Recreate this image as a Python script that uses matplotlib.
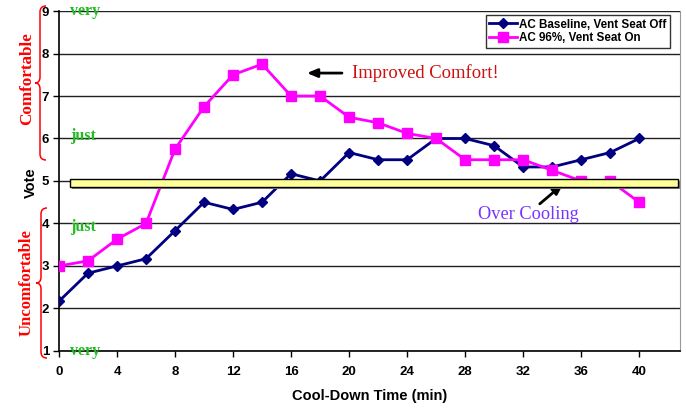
import numpy as np
import matplotlib.pyplot as plt
from matplotlib.path import Path
from matplotlib.patches import PathPatch, Rectangle

# data
minutes = [0, 2, 4, 6, 8, 10, 12, 14, 16, 18, 20, 22, 24, 26, 28, 30, 32, 34, 36, 38, 40]
baseline = [2.17, 2.83, 3.0, 3.17, 3.83, 4.5, 4.33, 4.5, 5.17, 5.0, 5.67, 5.5, 5.5,
            6.0, 6.0, 5.83, 5.33, 5.33, 5.5, 5.67, 6.0]
vent_on = [3.0, 3.12, 3.63, 4.0, 5.75, 6.75, 7.5, 7.75, 7.0, 7.0, 6.5, 6.37, 6.12,
           6.0, 5.5, 5.5, 5.5, 5.25, 5.0, 5.0, 4.5]
series_names = ['AC Baseline, Vent Seat Off', 'AC 96%, Vent Seat On']
x_ticks = list(range(0, 41, 4))
y_ticks = list(range(1, 10))
neutral_band = (4.85, 5.05)
level_labels = [(9, 'very'), (6.07, 'just'), (3.92, 'just'), (1, 'very')]

SERIF = ['Liberation Serif', 'DejaVu Serif']
SANS = ['Liberation Sans', 'DejaVu Sans']
plt.rcParams['font.family'] = SANS

fig = plt.figure(figsize=(6.86, 4.09), dpi=100)
ax = fig.add_axes([0.086, 0.142, 0.905, 0.831])

ax.plot(minutes, baseline, color='#000080', lw=2, marker='D', ms=5,
        label=series_names[0], zorder=3)
ax.plot(minutes, vent_on, color='#ff00ff', lw=2, marker='s', ms=6.5,
        label=series_names[1], zorder=3)

# yellow "neutral" band drawn over the lines, with a little shadow
x0, x1 = 0.75, 42.65
ax.add_patch(Rectangle((x0 + 0.15, neutral_band[0] - 0.04), x1 - x0, neutral_band[1] - neutral_band[0],
                       facecolor='#808080', edgecolor='none', zorder=4, clip_on=False))
ax.add_patch(Rectangle((x0, neutral_band[0]), x1 - x0, neutral_band[1] - neutral_band[0],
                       facecolor='#ffff99', edgecolor='black', lw=1, zorder=5, clip_on=False))

ax.set_xlim(0, 42.8)
ax.set_ylim(1, 9)
ax.set_xticks(x_ticks)
ax.set_yticks(y_ticks)
ax.tick_params(direction='out', length=4, width=1, labelsize=9.5, pad=3)
for lab in ax.get_xticklabels() + ax.get_yticklabels():
    lab.set_fontweight('bold')
ax.tick_params(axis='x', pad=7)
ax.grid(axis='y', color='#202020', lw=1)
ax.set_axisbelow(True)
ax.spines['top'].set_visible(False)
ax.spines['right'].set_color('#999999')
ax.spines['left'].set_linewidth(1.2)
ax.spines['bottom'].set_linewidth(1.2)

ax.set_xlabel('Cool-Down Time (min)', fontsize=10.5, fontweight='bold', labelpad=8)
fig.text(0.045, 0.553, 'Vote', rotation=90, ha='center', va='center',
         fontsize=10.5, fontweight='bold')

leg = ax.legend(loc='upper right', bbox_to_anchor=(0.988, 0.995), fontsize=8.4,
                frameon=True, fancybox=False, edgecolor='black', borderpad=0.3,
                labelspacing=0.15, handlelength=2.4, handletextpad=0.15, borderaxespad=0.2)
for t in leg.get_texts():
    t.set_fontweight('bold')
leg.get_frame().set_linewidth(1)

for yv, txt in level_labels:
    ax.text(0.75, yv, txt, color='#22bb22', fontsize=11.5, fontweight='bold',
            family=SERIF, ha='left', va='center', zorder=6, clip_on=False)

# annotations
ax.annotate('', xy=(16.9, 7.54), xytext=(19.7, 7.54),
            arrowprops=dict(arrowstyle='-|>,head_length=0.6,head_width=0.25', color='black', lw=2))
ax.text(20.2, 7.54, 'Improved Comfort!', color='#cc1111', fontsize=13.4, family=SERIF,
        ha='left', va='center')
ax.annotate('', xy=(34.9, 4.97), xytext=(33.0, 4.42),
            arrowprops=dict(arrowstyle='-|>,head_length=0.6,head_width=0.25', color='black', lw=2))
ax.text(28.9, 4.2, 'Over Cooling', color='#7733ff', fontsize=13.2, family=SERIF,
        ha='left', va='center')


def brace(fig, x, y_top, y_bot, w=5, curl=6):
    """red curly brace in figure pixels, opening to the right"""
    H = fig.bbox.height
    mid = (y_top + y_bot) / 2.0
    pts = [(x + curl, y_top), (x, y_top), (x, y_top + curl),
           (x, mid - curl), (x, mid), (x - w, mid),
           (x, mid), (x, mid + curl),
           (x, y_bot - curl), (x, y_bot), (x + curl, y_bot)]
    codes = [Path.MOVETO, Path.CURVE3, Path.CURVE3,
             Path.LINETO, Path.CURVE3, Path.CURVE3,
             Path.CURVE3, Path.CURVE3,
             Path.LINETO, Path.CURVE3, Path.CURVE3]
    pts = [(px, H - py) for px, py in pts]
    fig.patches.append(PathPatch(Path(pts, codes), transform=None, fill=False,
                                 edgecolor='red', lw=1.1))


brace(fig, 40, 6, 160)
brace(fig, 41, 208, 358)
fig.text(27 / 686, 1 - 79 / 409, 'Comfortable', rotation=90, color='red', ha='center',
         va='center', fontsize=12.3, fontweight='bold', family=SERIF)
fig.text(27 / 686, 1 - 283 / 409, 'Uncomfortable', rotation=90, color='red', ha='center',
         va='center', fontsize=12, fontweight='bold', family=SERIF)

fig.savefig('out.png', dpi=100)
